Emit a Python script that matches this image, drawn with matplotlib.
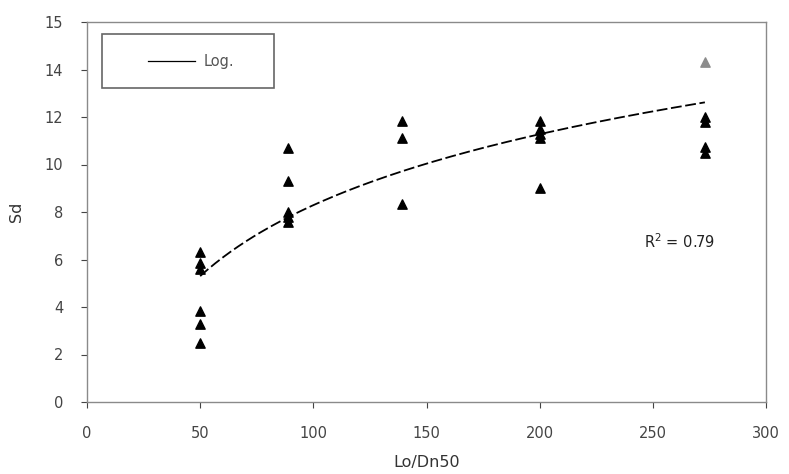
import numpy as np
import matplotlib.pyplot as plt
from matplotlib.patches import Rectangle

# Lo/Dn50 groups and measured Sd values
x_black = [50, 50, 50, 50, 50, 50,
           89, 89, 89, 89, 89,
           139, 139, 139,
           200, 200, 200, 200, 200,
           273, 273, 273, 273]
sd_black = [6.3, 5.85, 5.6, 3.85, 3.3, 2.5,
            10.7, 9.3, 8.0, 7.8, 7.6,
            11.85, 11.1, 8.35,
            11.85, 11.5, 11.3, 11.1, 9.0,
            12.0, 11.8, 10.75, 10.5]
x_grey = [273]
sd_grey = [14.3]

y_ticks = [0, 2, 4, 6, 8, 10, 12, 14, 16]
y_tick_labels = ["0", "2", "4", "6", "8", "10", "12", "14", "15"]
x_ticks = [0, 50, 100, 150, 200, 250, 300]

# logarithmic trend line Sd = a*ln(x) + b, coefficients
trend_a = 4.31
trend_b = -11.56
trend_x = [50, 273]
xf = np.linspace(trend_x[0], trend_x[1], 200)
yf = trend_a * np.log(xf) + trend_b

fig = plt.figure(figsize=(7.89, 4.74), dpi=100)
ax = fig.add_axes([87 / 789, 1 - 402 / 474, 679 / 789, 380 / 474])

ax.plot(xf, yf, color="black", lw=1.3, ls=(0, (6, 2)), label="Log.", zorder=2)
ax.scatter(x_black, sd_black, marker="^", s=45, color="black", zorder=3)
ax.scatter(x_grey, sd_grey, marker="^", s=45, color="#8c8c8c", zorder=3)

ax.set_xlim(0, 300)
ax.set_ylim(0, 16)
ax.set_xticks(x_ticks)
ax.set_yticks(y_ticks)
ax.set_yticklabels(y_tick_labels)
ax.tick_params(colors="#444444", labelsize=10.5, length=4, width=0.8)
ax.tick_params(axis="x", pad=13)
ax.tick_params(axis="y", pad=13)
for s in ax.spines.values():
    s.set_color("#8a8a8a")
    s.set_linewidth(1.0)

ax.set_xlabel("Lo/Dn50", fontsize=11.5, color="#333333", labelpad=10)
ax.set_ylabel("Sd", fontsize=11.5, color="#333333", labelpad=15)

ax.text(246, 6.75, "R$^2$ = 0.79", fontsize=10.5, color="#222222", va="center")

# legend box
ax.add_patch(Rectangle((0.022, 0.826), 0.253, 0.142, transform=ax.transAxes,
                       fill=False, edgecolor="#666666", lw=1.2, zorder=4))
leg = ax.legend(loc="center", bbox_to_anchor=(0.153, 0.897), fontsize=10.5,
                frameon=False, handlelength=3.2, handletextpad=0.6)
leg.get_lines()[0].set_linestyle("-")
leg.get_lines()[0].set_linewidth(0.9)
for t in leg.get_texts():
    t.set_color("#555555")

fig.savefig("out.png", dpi=100)
